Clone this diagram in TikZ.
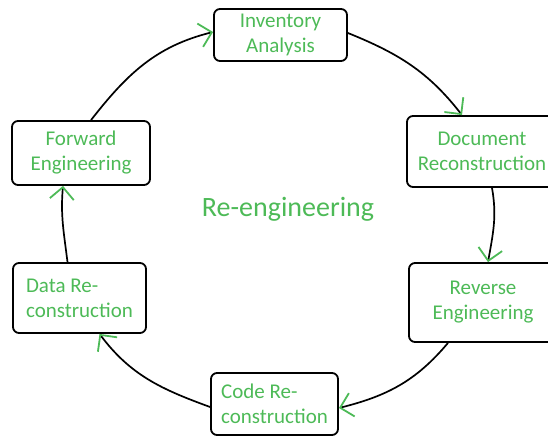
\documentclass[tikz,border=0pt]{standalone}
\usepackage{fontspec}
\setmainfont{Carlito}
\usepackage{tikz}
\usetikzlibrary{arrows.meta}
\usetikzlibrary{positioning}
\definecolor{grn}{RGB}{77,186,87}
\tikzset{
	box/.style={draw, line width=1.8pt, rounded corners=6pt, text=grn, font=\fontsize{21}{25}\selectfont},
	arr/.style={line width=1.7pt, -{Straight Barb[length=12pt,width=24pt,line width=1.8pt,color=grn]}}
}

\begin{document}
\begin{tikzpicture}[x=1pt,y=1pt]
		\useasboundingbox (0,0) rectangle (548,436);
		\node[box, minimum width=133pt, minimum height=52pt, align=center] (inv) at (280.5,401) {Inventory\\Analysis};
		\node[box, minimum width=150pt, minimum height=71pt, align=center] (doc) at (482,284.5) {Document\\Reconstruction};
		\node[box, minimum width=148pt, minimum height=79pt, align=center] (rev) at (483,133.5) {Reverse\\Engineering};
		\node[box, minimum width=127pt, minimum height=62pt, align=left] (code) at (274.5,32) {Code Re-\\construction};
		\node[box, minimum width=133pt, minimum height=70pt, align=left] (data) at (79.5,138) {Data Re-\\construction};
		\node[box, minimum width=138pt, minimum height=64pt, align=center] (fwd) at (81,283) {Forward\\Engineering};
		\node[text=grn, font=\fontsize{28}{34}\selectfont, anchor=base] (title) at (288,219) {Re-engineering};
		% cycle
		\draw[arr] ([xshift=10pt]fwd.north) to[out=52,in=194] ([yshift=3pt]inv.west);
		\draw[arr] ([yshift=2pt]inv.east) to[out=-22,in=128] ([xshift=-20pt]doc.north);
		\draw[arr] ([xshift=10pt]doc.south) to[out=-80,in=80] ([xshift=5pt]rev.north);
		\draw[arr] ([xshift=-35pt]rev.south) to[out=-130,in=14] ([yshift=-4pt]code.east);
		\draw[arr] ([yshift=-3pt]code.west) to[out=160,in=-53] ([xshift=20pt]data.south);
		\draw[arr] ([xshift=-12pt]data.north) to[out=97,in=-95] ([xshift=-18pt]fwd.south);
	\end{tikzpicture}
\end{document}
